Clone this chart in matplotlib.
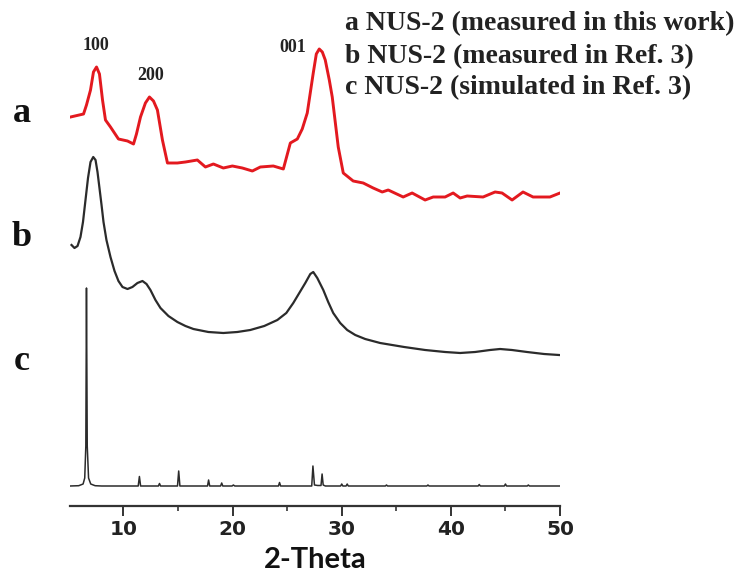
import matplotlib
matplotlib.use("Agg")
import matplotlib.pyplot as plt
from matplotlib.ticker import MultipleLocator

# ---------------- data ----------------
# curve a: NUS-2 measured in this work (intensity, a.u.)
a_theta = [5.15, 6.34, 6.61, 6.98, 7.25, 7.53, 7.80, 8.08, 8.35, 8.81, 9.54,
           10.37, 10.92, 11.19, 11.56, 12.01, 12.38, 12.75, 13.11, 13.57, 14.03,
           14.94, 15.68, 16.77, 17.51, 18.24, 19.15, 19.98, 20.89, 21.81, 22.54,
           23.73, 24.65, 25.29, 25.93, 26.38, 26.84, 27.39, 27.67, 27.94, 28.22,
           28.49, 28.86, 29.13, 29.68, 30.14, 31.05, 31.97, 32.88, 33.71, 34.26,
           35.63, 36.45, 37.64, 38.38, 39.47, 40.21, 40.85, 41.49, 42.95, 44.05,
           44.69, 45.61, 46.61, 47.53, 49.08, 50.0]
a_int = [89, 92, 101, 116, 134, 139, 132, 106, 86, 79, 67,
         65, 62, 72, 89, 103, 109, 105, 96, 66, 43,
         43, 44, 46, 39, 42, 38, 40, 38, 35, 39,
         40, 37, 63, 67, 77, 93, 133, 152, 157, 154,
         146, 126, 109, 59, 33, 25, 23, 18, 14, 16,
         9, 13, 6, 9, 9, 13, 8, 10, 9, 14,
         13, 6, 14, 9, 9, 13]

# curve b: NUS-2 measured in Ref. 3
b_theta = [5.24, 5.51, 5.79, 6.06, 6.29, 6.52, 6.75, 6.98, 7.23, 7.44, 7.62,
           7.80, 7.99, 8.17, 8.44, 8.81, 9.18, 9.54, 9.91, 10.37, 10.82,
           11.28, 11.74, 12.11, 12.47, 12.93, 13.39, 14.12, 14.94, 15.68, 16.41,
           17.78, 19.15, 20.43, 21.62, 22.90, 24.10, 24.92, 25.56, 26.11, 26.66,
           27.12, 27.39, 27.76, 28.31, 28.76, 29.22, 29.86, 30.50, 31.24, 32.15,
           33.52, 35.72, 37.64, 39.47, 40.85, 42.22, 43.59, 44.51, 45.60, 46.98,
           48.54, 49.91]
b_int = [111, 108, 110, 119, 134, 156, 178, 194, 199, 196, 184,
         168, 151, 134, 116, 99, 85, 75, 69, 67, 69,
         73, 75, 72, 66, 56, 48, 40, 34, 30, 27,
         24, 23, 24, 26, 30, 36, 43, 53, 63, 73,
         82, 84, 78, 66, 54, 43, 33, 26, 21, 17,
         13, 9, 6, 4, 3, 4, 6, 7, 6, 4,
         2, 1]

# curve c: NUS-2 simulated in Ref. 3
c_theta = [5.1, 5.9, 6.3, 6.45, 6.55, 6.61, 6.68, 6.8, 7.0, 7.4, 8.0,
           11.35, 11.46, 11.57, 13.2, 13.3, 13.4, 14.95, 15.06, 15.17,
           17.7, 17.8, 17.9, 18.9, 19.0, 19.1, 19.95, 20.07, 20.2,
           24.2, 24.3, 24.4, 27.25, 27.36, 27.5, 27.8, 28.1, 28.2, 28.3, 28.5,
           29.9, 30.0, 30.1, 30.4, 30.5, 30.6, 34.0, 34.1, 34.2,
           37.8, 37.9, 38.0, 42.5, 42.6, 42.7, 44.9, 45.0, 45.1, 47.0, 47.1, 47.2, 50.0]
c_int = [0, 0.3, 2, 8, 40, 198, 40, 8, 2, 0.3, 0,
         0, 9.5, 0, 0, 2.5, 0, 0, 15, 0,
         0, 6, 0, 0, 3, 0, 0, 1, 0,
         0, 3.5, 0, 0, 20, 1, 0.5, 0.5, 12, 1, 0,
         0, 2, 0, 0, 2, 0, 0, 1, 0,
         0, 1, 0, 0, 1.5, 0, 0, 2, 0, 0, 1, 0, 0]

offsets = {"a": 300, "b": 150, "c": 20}
curve_letters = ["a", "b", "c"]
legend_lines = ["a NUS-2 (measured in this work)",
                "b NUS-2 (measured in Ref. 3)",
                "c NUS-2 (simulated in Ref. 3)"]
peak_labels = ["100", "200", "001"]
peak_theta = [7.44, 12.5, 25.47]
peak_y = [460, 431, 459]
x_ticks = [10, 20, 30, 40, 50]

# ---------------- figure ----------------
W, H = 742, 585
fig = plt.figure(figsize=(W / 100, H / 100), dpi=100)
ax = fig.add_axes([70 / W, 1 - 506 / H, (560 - 70) / W, (506 - 40) / H])

ax.plot(a_theta, [v + offsets["a"] for v in a_int], color="#e3191f", lw=2.1,
        solid_joinstyle="round")
ax.plot(b_theta, [v + offsets["b"] for v in b_int], color="#2b2b2b", lw=1.6,
        solid_joinstyle="round")
ax.plot(c_theta, [v + offsets["c"] for v in c_int], color="#2b2b2b", lw=1.1)

ax.set_xlim(5.1, 50)
ax.set_ylim(0, 466)

for s in ["left", "right", "top"]:
    ax.spines[s].set_visible(False)
ax.spines["bottom"].set_linewidth(1.6)
ax.spines["bottom"].set_color("#333333")
ax.set_yticks([])
ax.set_xticks(x_ticks)
ax.xaxis.set_minor_locator(MultipleLocator(5))
ax.tick_params(axis="x", which="major", direction="out", length=7, width=1.4,
               color="#333333", pad=3)
ax.tick_params(axis="x", which="minor", direction="out", length=3.5, width=1.2,
               color="#333333")
for lab in ax.get_xticklabels():
    lab.set_fontfamily("DejaVu Sans")
    lab.set_fontweight("bold")
    lab.set_fontsize(14.5)
    lab.set_color("#222222")

ax.set_xlabel("2-Theta", fontfamily="Lato", fontweight="bold", fontsize=21,
              color="#111111", labelpad=6)

for t, th, yy in zip(peak_labels, peak_theta, peak_y):
    ax.text(th, yy, t, ha="center", va="center", fontfamily="Liberation Serif",
            fontweight="bold", fontsize=13, color="#222222", clip_on=False)

for letter, py in zip(curve_letters, [113, 237, 362]):
    fig.text(22 / W, 1 - py / H, letter, ha="center", va="center",
             fontfamily="Liberation Serif", fontweight="bold", fontsize=26,
             color="#111111")

for line, py in zip(legend_lines, [24, 57, 88]):
    fig.text(345 / W, 1 - py / H, line, ha="left", va="center",
             fontfamily="Liberation Serif", fontweight="bold", fontsize=20,
             color="#222222")

fig.savefig("out.png", dpi=100)
